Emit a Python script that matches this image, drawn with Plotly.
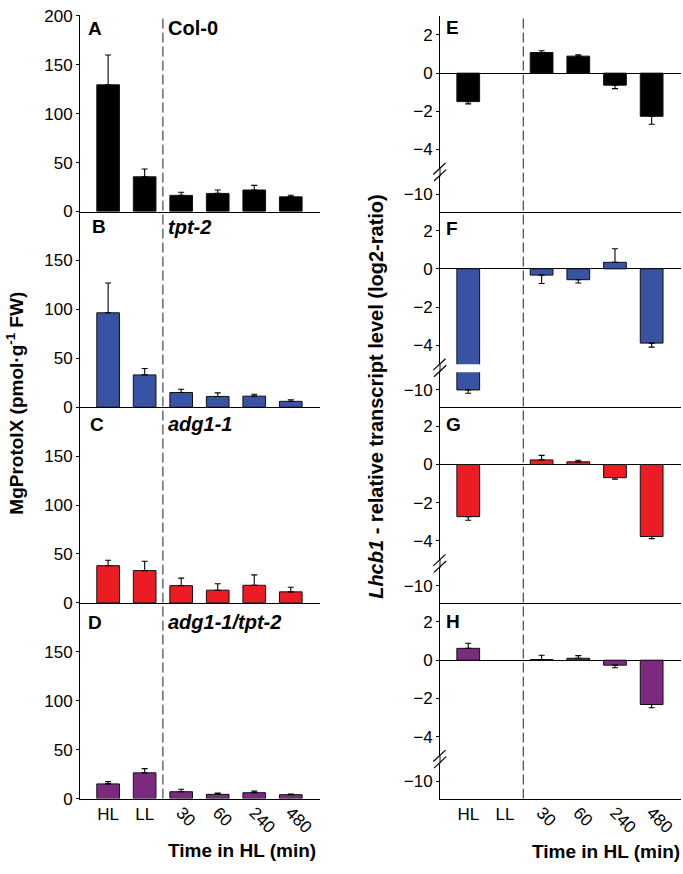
import plotly.graph_objects as go

W, H = 683, 874

# ---------------- data ----------------
categories = ['HL', 'LL', '30', '60', '240', '480']
flat_labels = ['HL', 'LL']
rot_labels = ['30', '60', '240', '480']

genotypes = ['Col-0', 'tpt-2', 'adg1-1', 'adg1-1/tpt-2']
geno_italic = [False, True, True, True]
left_letters = ['A', 'B', 'C', 'D']
right_letters = ['E', 'F', 'G', 'H']
colors = ['#000000', '#3953a4', '#ec1c24', '#7b2a80']

# MgProtoIX (pmol g-1 FW)
mg_col0 = [129.5, 35.5, 16.5, 18.5, 22.0, 15.0]
mg_col0_err = [30.5, 8.0, 3.2, 3.5, 4.7, 1.7]
mg_tpt2 = [96.5, 33.0, 15.0, 11.0, 11.3, 6.0]
mg_tpt2_err = [30.5, 6.6, 3.3, 3.6, 2.0, 1.6]
mg_adg1 = [38.0, 33.0, 17.6, 13.0, 18.0, 11.3]
mg_adg1_err = [5.6, 9.6, 7.7, 6.6, 10.6, 4.7]
mg_double = [15.0, 26.3, 7.0, 4.3, 6.0, 4.0]
mg_double_err = [2.3, 4.3, 2.6, 1.3, 1.6, 0.6]

# Lhcb1 relative transcript level (log2-ratio)
lh_col0 = [-1.49, None, 1.08, 0.89, -0.63, -2.26]
lh_col0_err = [0.12, 0, 0.09, 0.07, 0.18, 0.42]
lh_tpt2 = [-10.0, None, -0.33, -0.57, 0.34, -3.89]
lh_tpt2_err = [0.17, 0, 0.44, 0.17, 0.71, 0.21]
lh_adg1 = [-2.73, None, 0.24, 0.14, -0.69, -3.77]
lh_adg1_err = [0.19, 0, 0.24, 0.08, 0.08, 0.11]
lh_double = [0.62, None, 0.03, 0.10, -0.26, -2.32]
lh_double_err = [0.27, 0, 0.23, 0.14, 0.14, 0.17]

mg_vals = [mg_col0, mg_tpt2, mg_adg1, mg_double]
mg_errs = [mg_col0_err, mg_tpt2_err, mg_adg1_err, mg_double_err]
lh_vals = [lh_col0, lh_tpt2, lh_adg1, lh_double]
lh_errs = [lh_col0_err, lh_tpt2_err, lh_adg1_err, lh_double_err]

mg_ticks_top = [0, 50, 100, 150, 200]
mg_ticks = [0, 50, 100, 150]
lh_ticks_upper = [-4, -2, 0, 2]
lh_ticks_lower = [-10]

# ---------------- geometry helpers ----------------
def fx(px):
    return px / W

def fy(py):
    return 1 - py / H

FONT = 'Liberation Sans, Arial, sans-serif'
TICK_SIZE = 17
xpos = list(range(len(categories)))
XR = [-0.77, 5.8]
LEFT_X = [80, 320]
RIGHT_X = [440, 681]
P_TOP = 8.0
P_H = 199.8
UP_H = 156.0   # upper segment of broken axis (3 .. -5)
LOW_T = 164.0  # lower segment start (-9.08 .. -10.89)

fig = go.Figure()
layout = dict(
    width=W, height=H,
    margin=dict(l=0, r=0, t=0, b=0),
    paper_bgcolor='white', plot_bgcolor='rgba(0,0,0,0)',
    showlegend=False,
    font=dict(family=FONT, size=16, color='black'),
)
shapes = []
annotations = []

def err_style(up, down):
    return dict(type='data', symmetric=False, array=up, arrayminus=down,
                color='black', thickness=1.1, width=3)

for i in range(4):
    top = P_TOP + P_H * i
    bot = top + P_H
    bottom_panel = (i == 3)

    # ----- left panel -----
    a = 1 + i
    xa = dict(domain=[fx(LEFT_X[0]), fx(LEFT_X[1])], range=XR, anchor='y%d' % a,
              showline=True, linecolor='black', linewidth=1, ticks='',
              showgrid=False, zeroline=False, fixedrange=True)
    if bottom_panel:
        xa.update(tickmode='array', tickvals=xpos[:2], ticktext=flat_labels,
                  tickfont=dict(size=TICK_SIZE))
    else:
        xa.update(showticklabels=False)
    ytop = 201 if i == 0 else 200
    dom_top = top - (ytop - 200) * P_H / 200
    ya = dict(domain=[fy(bot), fy(dom_top)], range=[0, ytop], anchor='x%d' % a,
              showline=True, linecolor='black', linewidth=1,
              ticks='outside', ticklen=3, tickcolor='black',
              tickmode='array', tickvals=mg_ticks_top if i == 0 else mg_ticks,
              ticklabeloverflow='allow',
              showgrid=False, zeroline=False, tickfont=dict(size=TICK_SIZE),
              fixedrange=True)
    layout['xaxis%d' % a] = xa
    layout['yaxis%d' % a] = ya

    fig.add_trace(go.Bar(
        x=xpos, y=mg_vals[i], xaxis='x%d' % a, yaxis='y%d' % a, width=0.62,
        marker=dict(color=colors[i], line=dict(color='#111111', width=1)),
        error_y=err_style(mg_errs[i], [0] * len(categories)),
    ))

    # ----- right panel (broken axis: upper + lower subplot) -----
    u = 5 + 2 * i
    l = 6 + 2 * i
    vals = lh_vals[i]
    errs = lh_errs[i]
    up = [e if (v is not None and v >= 0) else 0 for v, e in zip(vals, errs)]
    dn = [e if (v is not None and v < 0) else 0 for v, e in zip(vals, errs)]

    layout['xaxis%d' % u] = dict(domain=[fx(RIGHT_X[0]), fx(RIGHT_X[1])], range=XR,
                                 anchor='y%d' % u, showline=False, ticks='',
                                 showticklabels=False, showgrid=False, zeroline=False,
                                 fixedrange=True)
    layout['yaxis%d' % u] = dict(domain=[fy(top + UP_H), fy(top)], range=[-5.0, 3.0],
                                 anchor='x%d' % u, showline=True, linecolor='black',
                                 linewidth=1, ticks='outside', ticklen=3, tickcolor='black',
                                 tickmode='array', tickvals=lh_ticks_upper,
                                 ticklabeloverflow='allow',
                                 showgrid=False, zeroline=True, zerolinecolor='black',
                                 zerolinewidth=1, tickfont=dict(size=TICK_SIZE),
                                 fixedrange=True)
    xl = dict(domain=[fx(RIGHT_X[0]), fx(RIGHT_X[1])], range=XR, anchor='y%d' % l,
              showline=True, linecolor='black', linewidth=1, ticks='',
              showgrid=False, zeroline=False, fixedrange=True)
    if bottom_panel:
        xl.update(tickmode='array', tickvals=xpos[:2], ticktext=flat_labels,
                  tickfont=dict(size=TICK_SIZE))
    else:
        xl.update(showticklabels=False)
    layout['xaxis%d' % l] = xl
    layout['yaxis%d' % l] = dict(domain=[fy(bot), fy(top + LOW_T)], range=[-10.89, -9.08],
                                 anchor='x%d' % l, showline=True, linecolor='black',
                                 linewidth=1, ticks='outside', ticklen=3, tickcolor='black',
                                 tickmode='array', tickvals=lh_ticks_lower,
                                 ticklabeloverflow='allow',
                                 showgrid=False, zeroline=False,
                                 tickfont=dict(size=TICK_SIZE), fixedrange=True)
    for ax in (u, l):
        fig.add_trace(go.Bar(
            x=xpos, y=vals, xaxis='x%d' % ax, yaxis='y%d' % ax, width=0.62,
            marker=dict(color=colors[i], line=dict(color='#111111', width=1)),
            error_y=err_style(up, dn),
        ))

    # axis line through the break gap + break marks
    shapes.append(dict(type='line', xref='paper', yref='paper',
                       x0=fx(RIGHT_X[0]), x1=fx(RIGHT_X[0]),
                       y0=fy(top + UP_H), y1=fy(top + LOW_T),
                       line=dict(color='black', width=1)))
    for (x0, y0, x1, y1) in [(433.3, 162.0, 445.5, 150.3), (434.0, 168.7, 446.2, 157.0)]:
        shapes.append(dict(type='line', xref='paper', yref='paper',
                           x0=fx(x0), y0=fy(top + y0), x1=fx(x1), y1=fy(top + y1),
                           line=dict(color='black', width=1.2)))

    # panel letters and genotype labels
    ly = [20.5, 223.5, 425.0, 627.0][i]
    lx = [86, 90, 88, 86][i]
    annotations.append(dict(xref='paper', yref='paper', x=fx(lx), y=fy(ly),
                            xanchor='left', yanchor='middle', showarrow=False,
                            text='<b>%s</b>' % left_letters[i],
                            font=dict(size=19, family=FONT)))
    g = genotypes[i]
    gtxt = '<b><i>%s</i></b>' % g if geno_italic[i] else '<b>%s</b>' % g
    annotations.append(dict(xref='paper', yref='paper', x=fx(166), y=fy(ly),
                            xanchor='left', yanchor='middle', showarrow=False,
                            text=gtxt, font=dict(size=20, family=FONT)))
    ry = [19.7, 225.3, 425.0, 626.0][i]
    annotations.append(dict(xref='paper', yref='paper', x=fx(444), y=fy(ry),
                            xanchor='left', yanchor='middle', showarrow=False,
                            text='<b>%s</b>' % right_letters[i],
                            font=dict(size=19, family=FONT)))

# rotated tick labels (overlay axes on the bottom panels)
for n, base in [(13, 4), (14, 12)]:
    layout['xaxis%d' % n] = dict(overlaying='x%d' % base, anchor='y%d' % base, range=XR,
                                 side='bottom',
                                 tickmode='array', tickvals=xpos[2:], ticktext=rot_labels,
                                 tickangle=45, showline=False, ticks='', showgrid=False,
                                 zeroline=False, tickfont=dict(size=TICK_SIZE),
                                 fixedrange=True)
    fig.add_trace(go.Scatter(x=xpos[2:], y=[None] * 4, xaxis='x%d' % n,
                             yaxis='y%d' % base, mode='markers', hoverinfo='skip',
                             marker=dict(opacity=0)))

# dashed separators
for xr in ('x4', 'x12'):
    shapes.append(dict(type='line', xref=xr, yref='paper', x0=1.5, x1=1.5,
                       y0=fy(P_TOP + 4 * P_H), y1=fy(P_TOP),
                       line=dict(color='#222222', width=1, dash='10px,4px')))

# axis titles
annotations.append(dict(xref='paper', yref='paper', x=fx(15), y=fy(404),
                        textangle=-90, showarrow=False, xanchor='center', yanchor='middle',
                        text='<b>MgProtoIX (pmol·g<sup>-1</sup> FW)</b>',
                        font=dict(size=19, family=FONT)))
annotations.append(dict(xref='paper', yref='paper', x=fx(376), y=fy(397),
                        textangle=-90, showarrow=False, xanchor='center', yanchor='middle',
                        text='<b><i>Lhcb1</i> - relative transcript level (log2-ratio)</b>',
                        font=dict(size=20, family=FONT)))
annotations.append(dict(xref='paper', yref='paper', x=fx(242), y=fy(860),
                        showarrow=False, xanchor='center', yanchor='middle',
                        text='<b>Time in HL (min)</b>', font=dict(size=19, family=FONT)))
annotations.append(dict(xref='paper', yref='paper', x=fx(682), y=fy(861),
                        showarrow=False, xanchor='right', yanchor='middle',
                        text='<b>Time in HL (min)</b>', font=dict(size=19, family=FONT)))

layout['shapes'] = shapes
layout['annotations'] = annotations
fig.update_layout(**layout)

fig.write_html('out.html',
               config={'displayModeBar': False},
               post_script="document.body.style.margin='0px';"
                           "document.body.style.overflow='hidden';")
